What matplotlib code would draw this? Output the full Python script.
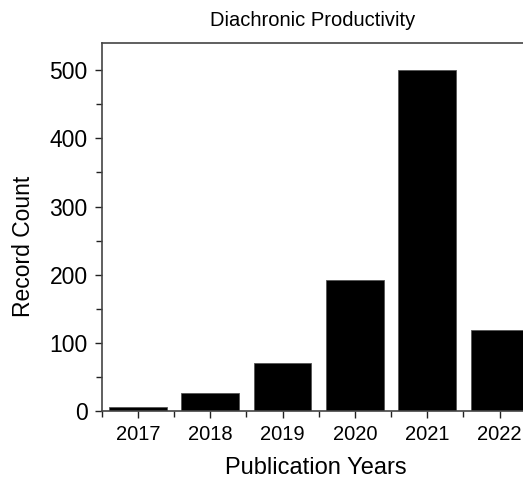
import matplotlib.pyplot as plt

years = [2017, 2018, 2019, 2020, 2021, 2022]
counts = [6, 27, 70, 192, 500, 119]

plt.rcParams["font.family"] = ["Liberation Sans", "DejaVu Sans"]

fig = plt.figure(figsize=(5.23, 4.83), dpi=100)
ax = fig.add_axes([101.7 / 523, 1 - 411 / 483, 434 / 523, 368 / 483])

ax.bar(years, counts, width=0.8, color="black", edgecolor="#555555", linewidth=0.6)

ax.set_xlim(2016.5, 2022.5)
ax.set_ylim(0, 540)
ax.set_xticks(years)
ax.set_xticks([y - 0.5 for y in years] + [2022.5], minor=True)
ax.set_yticks([0, 100, 200, 300, 400, 500])
ax.set_yticks([50, 150, 250, 350, 450], minor=True)

ax.tick_params(which="both", direction="out", color="#222222", width=1)
ax.tick_params(which="major", length=5)
ax.tick_params(which="minor", length=4)
ax.tick_params(axis="x", labelsize=14.5, pad=5)
ax.tick_params(axis="y", labelsize=16.5, pad=5)

for side in ["top", "left", "bottom", "right"]:
    ax.spines[side].set_color("#444444")
    ax.spines[side].set_linewidth(1.2)

fig.text(313 / 523, 1 - 20 / 483, "Diachronic Productivity", ha="center", va="center", fontsize=14.5)
fig.text(316 / 523, 1 - 468 / 483, "Publication Years", ha="center", va="center", fontsize=17)
fig.text(24 / 523, 1 - 246 / 483, "Record Count", ha="center", va="center", rotation=90, fontsize=16.5)

fig.savefig("out.png", dpi=100)
